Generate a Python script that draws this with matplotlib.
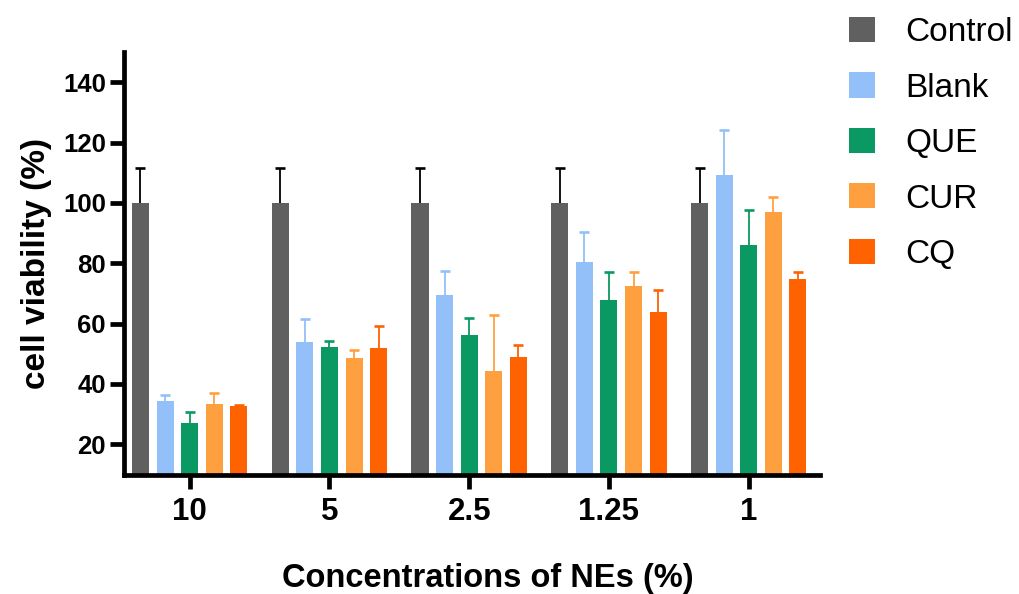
import numpy as np
import matplotlib
matplotlib.use("Agg")
import matplotlib.pyplot as plt

plt.rcParams["font.family"] = ["Liberation Sans", "DejaVu Sans"]

# data
concentrations = ["10", "5", "2.5", "1.25", "1"]
groups = ["Control", "Blank", "QUE", "CUR", "CQ"]
control = [100, 100, 100, 100, 100]
control_err = [11.5, 11.5, 11.5, 11.5, 11.5]
blank = [34.2, 54.0, 69.4, 80.5, 109.4]
blank_err = [2.2, 7.6, 8.0, 9.8, 14.8]
que = [26.9, 52.3, 56.1, 67.9, 85.9]
que_err = [3.9, 1.9, 5.9, 9.3, 11.8]
cur = [33.3, 48.7, 44.2, 72.3, 97.0]
cur_err = [3.8, 2.7, 18.6, 4.7, 5.1]
cq = [32.6, 52.0, 48.9, 63.9, 74.9]
cq_err = [0.4, 7.3, 4.1, 7.1, 2.1]

values = [control, blank, que, cur, cq]
errors = [control_err, blank_err, que_err, cur_err, cq_err]
colors = ["#606060", "#93c0f8", "#0a9962", "#ffa040", "#ff6200"]
err_colors = ["black", "#93c0f8", "#0a9962", "#ffa040", "#ff6200"]

W, H = 1019, 594
fig = plt.figure(figsize=(W / 100, H / 100), dpi=100)
left, right, bottom, top = 124, 820, 474.5, 52
ax = fig.add_axes([left / W, 1 - bottom / H, (right - left) / W, (bottom - top) / H])

x = np.arange(len(concentrations))
step = 0.176
width = 0.122
for i, (vals, errs) in enumerate(zip(values, errors)):
    pos = x + (i - 2) * step
    vals = np.array(vals)
    errs = np.array(errs)
    # upper-only error bars, cap drawn as a marker
    ax.vlines(pos, vals, vals + errs, color=err_colors[i], lw=1.3, zorder=1)
    ax.plot(pos, vals + errs, ls="none", marker="_", ms=6.5, mew=1.9,
            color=err_colors[i], zorder=1)
    ax.bar(pos, vals, width=width, color=colors[i], label=groups[i], zorder=2)

ax.set_xlim(-0.47, 4.51)
ax.set_ylim(10, 150)
ax.set_yticks([20, 40, 60, 80, 100, 120, 140])
ax.set_xticks(x)
ax.set_xticklabels(concentrations)

for side in ["top", "right"]:
    ax.spines[side].set_visible(False)
for side in ["left", "bottom"]:
    ax.spines[side].set_linewidth(3.4)
    ax.spines[side].set_capstyle("projecting")

ax.tick_params(axis="y", length=10, width=3.4, labelsize=18.5, pad=3)
ax.tick_params(axis="x", length=10, width=3.4, labelsize=22.5, pad=6)
for lbl in ax.get_xticklabels() + ax.get_yticklabels():
    lbl.set_fontweight("bold")

ax.set_ylabel("cell viability (%)", fontsize=24, fontweight="bold", labelpad=8)
ax.set_xlabel("Concentrations of NEs (%)", fontsize=23.5, fontweight="bold")
ax.xaxis.set_label_coords((488 - left) / (right - left), -(563 - bottom) / (bottom - top))

fig.legend(loc="upper left", bbox_to_anchor=(849 / W, 1 - 17 / H),
           frameon=False, fontsize=24, handlelength=0.78, handleheight=0.78,
           handletextpad=0.9, labelspacing=0.73, borderpad=0, borderaxespad=0)

fig.savefig("out.png", dpi=100)
